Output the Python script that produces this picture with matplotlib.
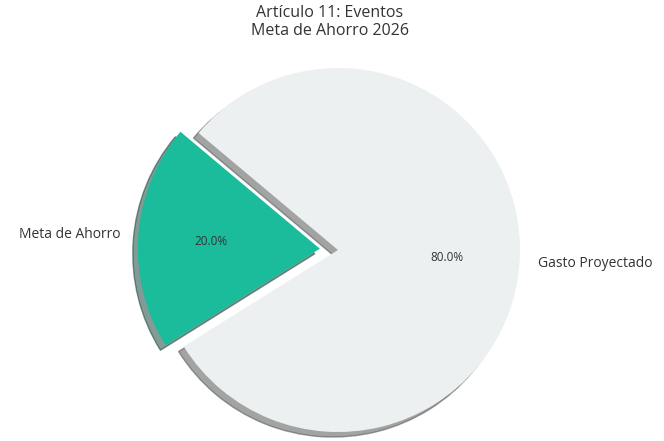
import matplotlib
matplotlib.use("Agg")
import matplotlib.pyplot as plt

plt.rcParams['font.family'] = ['Open Sans', 'DejaVu Sans']

labels = ["Meta de Ahorro", "Gasto Proyectado"]
values = [20, 80]
colors = ["#1abc9c", "#ecf0f1"]
explode = [0.1, 0]

W, H = 664, 441
fig = plt.figure(figsize=(W / 100, H / 100), dpi=100)
# pie center (px from left/top) and radius in px
cx, cy, R = 338, 250, 182
ylo, yhi = -1.0, 1.0
xlo, xhi = -1.8, 1.8
left = (cx + xlo * R) / W
bottom = (H - cy + ylo * R) / H
ax = fig.add_axes([left, bottom, (xhi - xlo) * R / W, (yhi - ylo) * R / H])
wedges, texts, autotexts = ax.pie(values, labels=labels, colors=colors, explode=explode,
                                  autopct='%1.1f%%', shadow=True, startangle=140,
                                  textprops={'color': '#333333', 'fontsize': 10})
for t in autotexts:
    t.set_fontsize(8.5)
ax.set_xlim(xlo, xhi)
ax.set_ylim(ylo, yhi)
ax.set_aspect('auto')
ax.axis('off')
fig.text(0.497, 1 - 22 / H, "Artículo 11: Eventos\nMeta de Ahorro 2026", ha='center', va='center',
         fontsize=11.5, color='#333333', linespacing=1.1)
fig.savefig("out.png", dpi=100)
